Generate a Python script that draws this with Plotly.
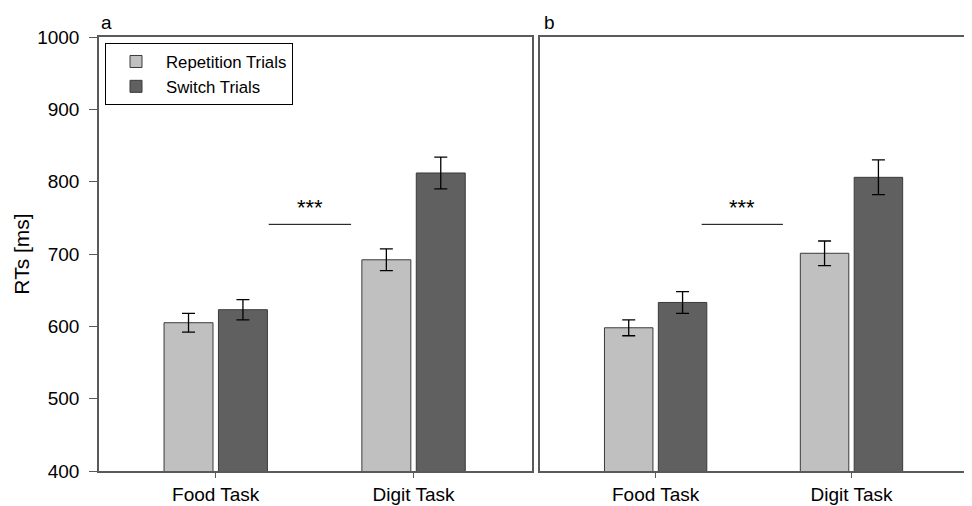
import plotly.graph_objects as go

categories = ["Food Task", "Digit Task"]
cat_pos = [0, 1]

# Panel a
a_rep = [605, 692]
a_rep_err = [13, 15]
a_sw = [623, 812]
a_sw_err = [14, 22]

# Panel b
b_rep = [598, 701]
b_rep_err = [11, 17]
b_sw = [633, 806]
b_sw_err = [15, 24]

sig_y = 741
sig_text = "***"
y_ticks = [400, 500, 600, 700, 800, 900, 1000]

REP_COLOR = "#c0c0c0"
SW_COLOR = "#606060"
EDGE = "#3a3a3a"
AXIS = "#5a5a5a"
FONT = "Liberation Sans, Arial, sans-serif"

fig = go.Figure()

def add_bars(xa, ya, rep, rep_err, sw, sw_err, show):
    fig.add_trace(go.Bar(
        x=cat_pos, y=rep, name="Repetition Trials", xaxis=xa, yaxis=ya,
        marker=dict(color=REP_COLOR, line=dict(color=EDGE, width=1)),
        error_y=dict(type="data", array=rep_err, color="black", thickness=1.3, width=6.5),
        showlegend=show, legendgroup="rep", offsetgroup="rep",
    ))
    fig.add_trace(go.Bar(
        x=cat_pos, y=sw, name="Switch Trials", xaxis=xa, yaxis=ya,
        marker=dict(color=SW_COLOR, line=dict(color=EDGE, width=1)),
        error_y=dict(type="data", array=sw_err, color="black", thickness=1.3, width=6.5),
        showlegend=show, legendgroup="sw", offsetgroup="sw",
    ))

add_bars("x", "y", a_rep, a_rep_err, a_sw, a_sw_err, True)
add_bars("x2", "y2", b_rep, b_rep_err, b_sw, b_sw_err, False)

xrange = [-0.59, 1.6]
common_x = dict(
    range=xrange, tickmode="array", tickvals=cat_pos, ticktext=categories,
    showline=True, linecolor=AXIS, linewidth=1.5, mirror=True,
    ticks="outside", ticklen=5, tickcolor=AXIS, tickwidth=1,
    showgrid=False, zeroline=False,
    tickfont=dict(family=FONT, size=19, color="black"),
)
common_y = dict(
    range=[400, 1000], tickvals=y_ticks,
    showline=True, linecolor=AXIS, linewidth=1.5, mirror=True,
    showgrid=False, zeroline=False,
)

# page body has an 8px margin, so the figure is sized/margined to compensate
fig.update_layout(
    width=964, height=498,
    margin=dict(l=91, r=1, t=29, b=35),
    paper_bgcolor="white", plot_bgcolor="white",
    barmode="group", bargap=0.45, bargroupgap=0.1,
    font=dict(family=FONT, color="black"),
    xaxis=dict(domain=[0, 0.498], anchor="y", **common_x),
    xaxis2=dict(domain=[0.507, 1], anchor="y2", **common_x),
    yaxis=dict(anchor="x", ticks="outside", ticklen=8, tickcolor=AXIS, tickwidth=1,
               ticklabelstandoff=6,
               tickfont=dict(family=FONT, size=19, color="black"),
               title=dict(text="RTs [ms]", font=dict(family=FONT, size=21, color="black"), standoff=2),
               **common_y),
    yaxis2=dict(anchor="x2", ticks="", showticklabels=False, **common_y),
    legend=dict(
        x=0.0069, y=0.986, xanchor="left", yanchor="top",
        bordercolor="black", borderwidth=1, bgcolor="white",
        font=dict(family=FONT, size=16.8, color="black"),
        tracegroupgap=0, itemwidth=50,
    ),
)

# significance lines and stars
for xa, ya, x0, x1 in [("x", "y", 0.268, 0.684), ("x2", "y2", 0.235, 0.65)]:
    fig.add_shape(type="line", xref=xa, yref=ya, x0=x0, x1=x1, y0=sig_y, y1=sig_y,
                  line=dict(color="black", width=1))
    fig.add_annotation(xref=xa, yref=ya, x=(x0 + x1) / 2, y=sig_y, yshift=2,
                       text=sig_text, showarrow=False, yanchor="bottom",
                       font=dict(family=FONT, size=22, color="black"))

# panel labels
fig.add_annotation(xref="paper", yref="paper", x=0.0, y=1.0, yshift=2, text="a",
                   showarrow=False, xanchor="left", yanchor="bottom",
                   font=dict(family=FONT, size=19, color="black"))
fig.add_annotation(xref="paper", yref="paper", x=0.509, y=1.0, yshift=2, text="b",
                   showarrow=False, xanchor="left", yanchor="bottom",
                   font=dict(family=FONT, size=19, color="black"))

fig.write_html("out.html")
